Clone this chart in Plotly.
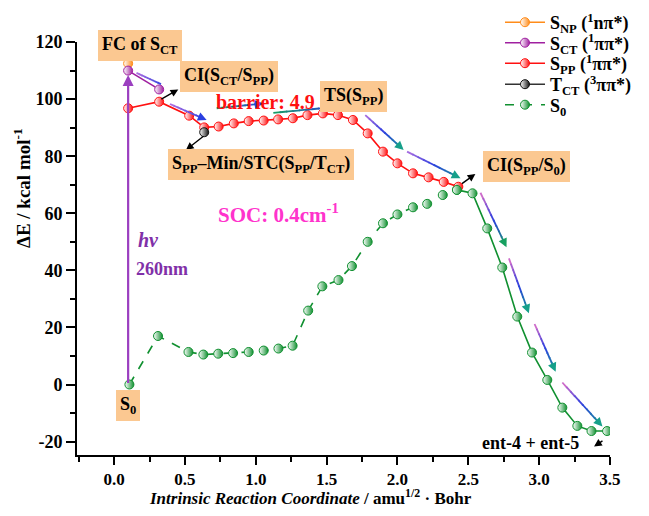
import plotly.graph_objects as go
import numpy as np

# ---------------- data ----------------
s0_x = [0.108, 0.31, 0.525, 0.63, 0.735, 0.84, 0.95, 1.056, 1.16, 1.26, 1.37, 1.47, 1.584, 1.679,
        1.79, 1.898, 2.0, 2.11, 2.21, 2.32, 2.42]
s0_y = [0.0, 17.0, 11.4, 10.5, 10.8, 11.0, 11.4, 11.9, 12.6, 13.6, 25.9, 34.4, 36.6, 41.5,
        50.0, 56.5, 59.6, 62.1, 63.3, 66.4, 68.2]
s0b_x = [2.42, 2.53, 2.634, 2.74, 2.846, 2.95, 3.058, 3.164, 3.27, 3.37, 3.48]
s0b_y = [68.2, 67.0, 54.7, 41.0, 23.8, 11.2, 1.6, -8.1, -14.5, -16.3, -16.3]

spp_x = [0.099, 0.318, 0.53, 0.636, 0.738, 0.845, 0.95, 1.056, 1.158, 1.262, 1.365, 1.474, 1.58,
         1.686, 1.79, 1.898, 2.0, 2.11, 2.22, 2.327, 2.43]
spp_y = [96.8, 99.1, 94.2, 90.1, 90.4, 91.5, 92.3, 92.5, 92.9, 93.3, 94.4, 95.0, 94.4,
         92.7, 88.0, 81.6, 77.5, 74.0, 72.6, 71.0, 69.3]

sct_x = [0.099, 0.318]
sct_y = [110.0, 103.4]
snp_x = [0.099]
snp_y = [112.5]
tct_x = [0.636]
tct_y = [88.4]

x_ticks = [0.0, 0.5, 1.0, 1.5, 2.0, 2.5, 3.0, 3.5]
x_ticklabels = ["0.0", "0.5", "1.0", "1.5", "2.0", "2.5", "3.0", "3.5"]
y_ticks = [-20, 0, 20, 40, 60, 80, 100, 120]

legend_names = ["S<sub>NP</sub> (<sup>1</sup>nπ*)", "S<sub>CT</sub> (<sup>1</sup>ππ*)",
                "S<sub>PP</sub> (<sup>1</sup>ππ*)", "T<sub>CT</sub> (<sup>3</sup>ππ*)", "S<sub>0</sub>"]

# direction arrows: (tail_x, tail_y, head_x, head_y, colours along the arrow)
PUR, BLU, TEAL, GRN, PINK = "#b070e0", "#2a3fe0", "#16a08a", "#17a060", "#e070c8"
flow_arrows = [
    (0.158, 109.2, 0.346, 104.9, [PUR, BLU]),
    (0.394, 98.3, 0.653, 92.7, [PUR, BLU]),
    (0.724, 96.8, 1.054, 98.5, [GRN, BLU]),
    (1.124, 95.2, 1.573, 97.3, [GRN, BLU]),
    (1.773, 94.4, 2.044, 82.2, [PUR, BLU, TEAL]),
    (2.068, 81.6, 2.445, 72.3, [PUR, BLU, TEAL]),
    (2.586, 67.2, 2.77, 48.1, [PINK, BLU, GRN]),
    (2.787, 44.2, 2.928, 25.0, [PINK, BLU, TEAL]),
    (2.968, 21.2, 3.117, 4.5, [PINK, BLU, TEAL]),
    (3.164, 0.7, 3.447, -14.7, [PINK, BLU, TEAL]),
]
black_arrows = [
    (0.323, 99.7, 0.453, 103.4),
    (0.641, 87.4, 0.507, 82.2),
    (2.445, 70.0, 2.55, 73.8),
    (3.458, -19.4, 3.388, -21.7),
]

FONT = "Liberation Serif"
BOX = "#fbc891"
OFF = 8  # page body margin of the rendered html
L, R, T, B = 77 - OFF, 39 + OFF, 42 - OFF, 61 + OFF
PW = 649 - L - R
PH = 516 - T - B


def px_x(px):
    return (px - OFF - L) / PW


def px_y(py):
    return (516 - B - (py - OFF)) / PH


def hx(c):
    c = c.lstrip("#")
    return np.array([int(c[i:i + 2], 16) for i in (0, 2, 4)], float)


def interp(cols, t):
    n = len(cols) - 1
    k = min(int(t * n), n - 1)
    f = t * n - k
    a, b = hx(cols[k]), hx(cols[k + 1])
    v = a + (b - a) * f
    return "rgb(%d,%d,%d)" % tuple(v)


def mk(c):
    return dict(symbol="circle", size=9, color="white",
                line=dict(color=c, width=1),
                gradient=dict(type="horizontal", color=c))


fig = go.Figure()

# S0 solid part (after CI)
fig.add_trace(go.Scatter(x=s0b_x, y=s0b_y, mode="lines+markers", line=dict(color="#109030", width=1.6),
                         marker=mk("#109030"), showlegend=False, hoverinfo="skip"))
# S_PP
fig.add_trace(go.Scatter(x=spp_x, y=spp_y, mode="lines+markers", line=dict(color="#ff1010", width=1.6),
                         marker=mk("#ff1010"), showlegend=False, hoverinfo="skip"))

leg_ids = ["legend", "legend2", "legend3", "legend4", "legend5"]
fig.add_trace(go.Scatter(x=snp_x, y=snp_y, mode="lines+markers", line=dict(color="#ff8c1a", width=1.6),
                         marker=mk("#ff8c1a"), name=legend_names[0], legend=leg_ids[0]))
fig.add_trace(go.Scatter(x=sct_x, y=sct_y, mode="lines+markers", line=dict(color="#a020a0", width=1.6),
                         marker=mk("#a020a0"), name=legend_names[1], legend=leg_ids[1]))
fig.add_trace(go.Scatter(x=[None], y=[None], mode="lines+markers", line=dict(color="#ff1010", width=1.6),
                         marker=mk("#ff1010"), name=legend_names[2], legend=leg_ids[2]))
fig.add_trace(go.Scatter(x=tct_x, y=tct_y, mode="lines+markers", line=dict(color="#333333", width=1.6),
                         marker=mk("#111111"), name=legend_names[3], legend=leg_ids[3]))
fig.add_trace(go.Scatter(x=s0_x, y=s0_y, mode="lines+markers",
                         line=dict(color="#109030", width=1.6, dash="dash"),
                         marker=mk("#109030"), name=legend_names[4], legend=leg_ids[4]))

ann = []
shapes = []
# gradient direction arrows built from short segments
for (x0, y0, x1, y1, cols) in flow_arrows:
    n = 10
    for i in range(n):
        t0, t1 = i / n, (i + 1) / n
        if i < n - 1:
            shapes.append(dict(type="line", xref="x", yref="y",
                               x0=x0 + (x1 - x0) * t0, y0=y0 + (y1 - y0) * t0,
                               x1=x0 + (x1 - x0) * (t1 + 0.02), y1=y0 + (y1 - y0) * (t1 + 0.02),
                               line=dict(color=interp(cols, (t0 + t1) / 2), width=1.8)))
        else:
            ann.append(dict(x=x1, y=y1, ax=x0 + (x1 - x0) * t0, ay=y0 + (y1 - y0) * t0,
                            xref="x", yref="y", axref="x", ayref="y", text="",
                            showarrow=True, arrowhead=2, arrowsize=1.1, arrowwidth=1.6,
                            standoff=0, startstandoff=0, arrowcolor=interp(cols, 1.0)))
for (x0, y0, x1, y1) in black_arrows:
    ann.append(dict(x=x1, y=y1, ax=x0, ay=y0, xref="x", yref="y", axref="x", ayref="y",
                    text="", showarrow=True, arrowhead=2, arrowsize=1.1, arrowwidth=1.4,
                    arrowcolor="black", standoff=0))
# excitation arrow
ann.append(dict(x=0.099, y=108.5, ax=0.099, ay=0.0, xref="x", yref="y", axref="x", ayref="y",
                text="", showarrow=True, arrowhead=2, arrowsize=1.0, arrowwidth=2.2,
                arrowcolor="#9b3fc0", standoff=0))


def box(text, x, y, size=18):
    return dict(x=x, y=y, xref="x", yref="y", text=text, showarrow=False,
                font=dict(family=FONT, size=size, color="black"), bgcolor=BOX,
                borderpad=4, borderwidth=0)


ann += [
    box("<b>FC of S<sub>CT</sub></b>", 0.182, 118.9),
    box("<b>CI(S<sub>CT</sub>/S<sub>PP</sub>)</b>", 0.808, 107.9),
    box("<b>TS(S<sub>PP</sub>)</b>", 1.692, 100.9),
    box("<b>S<sub>PP</sub>–Min/STC(S<sub>PP</sub>/T<sub>CT</sub>)</b>", 1.037, 77.2),
    box("<b>CI(S<sub>PP</sub>/S<sub>0</sub>)</b>", 2.911, 76.4),
    box("<b>S<sub>0</sub></b>", 0.097, -7.4),
    dict(x=1.066, y=99.0, xref="x", yref="y", text="<b>barrier: 4.9</b>", showarrow=False,
         font=dict(family=FONT, size=20, color="#ff1010")),
    dict(x=1.16, y=60.0, xref="x", yref="y", text="<b>SOC: 0.4cm<sup>-1</sup></b>", showarrow=False,
         font=dict(family=FONT, size=21, color="#ff33cc")),
    dict(x=0.246, y=50.6, xref="x", yref="y", text="<b><i>hv</i></b>", showarrow=False,
         font=dict(family=FONT, size=20, color="#8030a8")),
    dict(x=0.339, y=40.5, xref="x", yref="y", text="<b>260nm</b>", showarrow=False,
         font=dict(family=FONT, size=18, color="#8030a8")),
    dict(x=2.94, y=-20.6, xref="x", yref="y", text="<b>ent-4 + ent-5</b>", showarrow=False,
         font=dict(family=FONT, size=18, color="black")),
    dict(x=px_x(22), y=px_y(188), xref="paper", yref="paper", xanchor="center", yanchor="middle",
         text="<b>ΔE / kcal mol<sup>-1</sup></b>",
         textangle=-90, showarrow=False, font=dict(family=FONT, size=19, color="black")),
    dict(x=px_x(310), y=px_y(497), xref="paper", yref="paper", xanchor="center", yanchor="middle",
         text="<b><i>Intrinsic Reaction Coordinate</i> / amu<sup>1/2</sup> · Bohr</b>",
         showarrow=False, font=dict(family=FONT, size=17, color="black")),
]

legend_rows = [22.5, 43.0, 63.5, 84.5, 105.0]
leg_layout = {}
for lid, yc in zip(leg_ids, legend_rows):
    leg_layout[lid] = dict(x=px_x(500), y=px_y(yc),
                           xanchor="left", yanchor="middle", bgcolor="rgba(0,0,0,0)",
                           font=dict(family=FONT, size=18, color="black", weight="bold"),
                           itemwidth=40)

fig.update_layout(
    width=649, height=516,
    margin=dict(l=L, r=R, t=T, b=B, autoexpand=False),
    paper_bgcolor="white", plot_bgcolor="white",
    font=dict(family=FONT, size=16, color="black"),
    annotations=ann, shapes=shapes,
    xaxis=dict(range=[-0.262, 3.5005], tickvals=x_ticks, ticktext=["<b>%s</b>" % t for t in x_ticklabels],
               ticks="outside", ticklen=8, tickwidth=2, tickcolor="black",
               showline=True, linecolor="black", linewidth=2, showgrid=False, zeroline=False,
               minor=dict(dtick=0.25, tick0=0, ticks="outside", ticklen=5, tickwidth=2, tickcolor="black"),
               tickfont=dict(family=FONT, size=17, color="black")),
    yaxis=dict(range=[-24.7, 120.02], tickvals=y_ticks, ticktext=["<b>%d</b>" % v for v in y_ticks],
               ticks="outside", ticklen=9, tickwidth=2, tickcolor="black",
               showline=True, linecolor="black", linewidth=2, showgrid=False, zeroline=False,
               minor=dict(dtick=10, tick0=0, ticks="outside", ticklen=5, tickwidth=2, tickcolor="black"),
               tickfont=dict(family=FONT, size=18, color="black")),
    **leg_layout,
)

fig.write_html("out.html")
